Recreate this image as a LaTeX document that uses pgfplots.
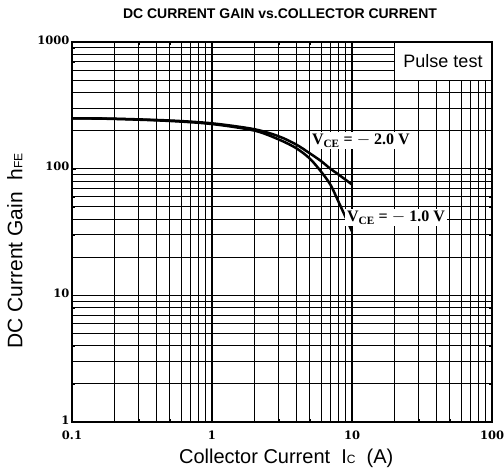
\documentclass[border=0pt]{standalone}
\usepackage{pgfplots}
\pgfplotsset{compat=1.18}
\usepackage{fontspec}
\setmainfont{Liberation Serif}
\newfontfamily\arial{Liberation Sans}
\newfontfamily\tickfont{DejaVu Serif}
\begin{document}
\begin{tikzpicture}
\useasboundingbox (0pt,0pt) rectangle (504pt,474pt);
\begin{axis}[
  at={(72pt,52pt)}, anchor=south west,
  scale only axis, width=420pt, height=380pt,
  xmode=log, ymode=log,
  xmin=0.1, xmax=100, ymin=1, ymax=1000,
  xtick={0.1,1,10,100},
  xticklabels={{0.1},{1},{10},{100}},
  ytick={1,10,100,1000}, yticklabels={1,10,100,1000},
  tick label style={font=\tickfont\bfseries\fontsize{11.5}{13}\selectfont},
  xticklabel style={yshift=-5pt},
  yticklabel style={xshift=1pt, yshift=2pt},
  grid=both,
  major grid style={black, line width=1.3pt},
  minor grid style={black, line width=0.8pt},
  axis line style={black, line width=1.6pt},
  tick style={black},
  xlabel={\arial\fontsize{20}{24}\selectfont Collector Current\ \ I{\fontsize{12}{14}\selectfont C}\ \ (A)},
  ylabel={\arial\fontsize{21}{24}\selectfont DC Current Gain\ \ h{\fontsize{12}{14}\selectfont FE}},
  xlabel style={at={(rel axis cs:0.51,-0.095)}, anchor=center},
  ylabel style={at={(rel axis cs:-0.136,0.45)}, anchor=center, rotate=0},
  clip=true,
]
\addplot[black, line width=2.5pt, smooth] coordinates {
 (0.1,250) (0.2,248) (0.5,240) (1,228) (2,205) (3,180) (4,155) (5,132) (6,115) (7,100) (8,90) (10,75)};
\addplot[black, line width=2.5pt, smooth] coordinates {
 (0.1,250) (0.2,247) (0.5,238) (1,225) (2,200) (3,170) (4,145) (5,120) (6,95) (7,75) (8,55) (10,32)};
\node[fill=white, draw=black, line width=1pt, anchor=north east, font=\arial\fontsize{18}{20}\selectfont, inner sep=2pt, minimum height=38pt, minimum width=97pt] at (rel axis cs:1,1) {Pulse test};
\node[fill=white, anchor=west, inner xsep=2pt, inner ysep=2pt, font=\bfseries\fontsize{16}{18}\selectfont] at (axis cs:5.0,166) {V$_{\mathbf{CE}}$ = $-$ 2.0 V};
\node[fill=white, anchor=west, inner xsep=2pt, inner ysep=2pt, font=\bfseries\fontsize{16}{18}\selectfont] at (axis cs:8.9,41) {V$_{\mathbf{CE}}$ = $-$ 1.0 V};
\end{axis}
\node[font=\arial\bfseries\fontsize{14}{16}\selectfont] at (280pt,460pt) {DC CURRENT GAIN vs.COLLECTOR CURRENT};
\end{tikzpicture}
\end{document}
